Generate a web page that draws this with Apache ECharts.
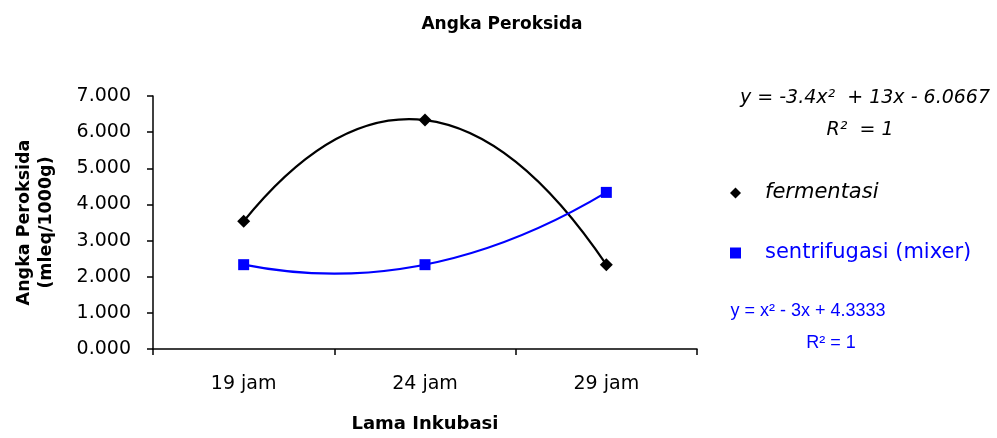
<!DOCTYPE html>
<html>
<head>
<meta charset="utf-8">
<script src="https://cdn.jsdelivr.net/npm/echarts@6/dist/echarts.min.js"></script>
<style>
  html, body { margin: 0; padding: 0; background: #fff; }
  #chart { width: 997px; height: 438px; }
</style>
</head>
<body>
<div id="chart"></div>
<script>
// data
const categories = ['19 jam', '24 jam', '29 jam'];
const fermentasi = [3.533, 6.333, 2.333];
const sentrifugasi = [2.333, 2.333, 4.333];
const yTicks = { min: 0, max: 7, interval: 1 };

const font = '"DejaVu Sans", sans-serif';
const font2 = '"Liberation Sans", Arial, sans-serif';

// 2nd order trendline through the three points, drawn as a quadratic bezier
// in pixel space (control point = 2*mid - (first+last)/2)
function trendItem(values, color) {
  return function (params, api) {
    if (params.dataIndex !== 0) return;
    const p = values.map((v, i) => api.coord([i, v]));
    return {
      type: 'bezierCurve',
      shape: {
        x1: p[0][0], y1: p[0][1],
        x2: p[2][0], y2: p[2][1],
        cpx1: 2 * p[1][0] - (p[0][0] + p[2][0]) / 2,
        cpy1: 2 * p[1][1] - (p[0][1] + p[2][1]) / 2
      },
      style: { stroke: color, lineWidth: 2.2, fill: null }
    };
  };
}

let myChart = echarts.init(document.getElementById('chart'));
myChart.setOption({
  animation: false,
  backgroundColor: '#fff',
  title: {
    text: 'Angka Peroksida',
    left: 497,
    top: 11,
    textAlign: 'center',
    textStyle: { fontFamily: font, fontSize: 17, fontWeight: 'bold', color: '#000' }
  },
  grid: { // plot area
    left: 153,
    right: 300,
    top: 96,
    bottom: 86
  },
  legend: {
    orient: 'vertical',
    left: 725,
    top: 176,
    itemWidth: 11,
    itemHeight: 11,
    itemGap: 36,
    selectedMode: false,
    textStyle: { fontFamily: font, fontSize: 21, lineHeight: 24, padding: [0, 0, 0, 19] },
    data: [
      { name: 'fermentasi', icon: 'diamond', textStyle: { color: '#000', fontStyle: 'italic' } },
      { name: 'sentrifugasi (mixer)', icon: 'rect', textStyle: { color: '#0000ff' } }
    ]
  },
  xAxis: {
    type: 'category',
    data: categories,
    boundaryGap: true,
    name: 'Lama Inkubasi',
    nameLocation: 'middle',
    nameGap: 66,
    nameTextStyle: { fontFamily: font, fontSize: 18, fontWeight: 'bold', color: '#000' },
    axisLine: { lineStyle: { color: '#000', width: 1.5 } },
    axisTick: { show: true, length: 6, lineStyle: { color: '#000', width: 1.5 } },
    axisLabel: { fontFamily: font, fontSize: 19, color: '#000', margin: 26 },
    splitLine: { show: false }
  },
  yAxis: {
    type: 'value',
    min: yTicks.min,
    max: yTicks.max,
    interval: yTicks.interval,
    name: 'Angka Peroksida\n(mleq/1000g)',
    nameLocation: 'middle',
    nameGap: 96,
    nameTextStyle: { fontFamily: font, fontSize: 17.5, fontWeight: 'bold', color: '#000', lineHeight: 22 },
    axisLine: { show: true, lineStyle: { color: '#000', width: 1.5 } },
    axisTick: { show: true, length: 6, lineStyle: { color: '#000', width: 1.5 } },
    axisLabel: {
      fontFamily: font, fontSize: 19, color: '#000', margin: 22,
      formatter: v => v.toFixed(3)
    },
    splitLine: { show: false }
  },
  series: [
    {
      type: 'custom',
      data: fermentasi,
      renderItem: trendItem(fermentasi, '#000'),
      silent: true
    },
    {
      type: 'custom',
      data: sentrifugasi,
      renderItem: trendItem(sentrifugasi, '#0000ff'),
      silent: true
    },
    {
      name: 'fermentasi',
      type: 'line',
      data: fermentasi,
      symbol: 'diamond',
      symbolSize: 13,
      itemStyle: { color: '#000' },
      lineStyle: { width: 0, opacity: 0 }
    },
    {
      name: 'sentrifugasi (mixer)',
      type: 'line',
      data: sentrifugasi,
      symbol: 'rect',
      symbolSize: 11,
      itemStyle: { color: '#0000ff' },
      lineStyle: { width: 0, opacity: 0 }
    }
  ],
  graphic: [
    {
      type: 'text', x: 865, y: 98,
      style: { text: 'y = -3.4x²  + 13x - 6.0667', font: 'italic 19px ' + font, fill: '#000', align: 'center', verticalAlign: 'middle' }
    },
    {
      type: 'text', x: 860, y: 130,
      style: { text: 'R²  = 1', font: 'italic 19px ' + font, fill: '#000', align: 'center', verticalAlign: 'middle' }
    },
    {
      type: 'text', x: 808, y: 311,
      style: { text: 'y = x² - 3x + 4.3333', font: '18px ' + font2, fill: '#0000ff', align: 'center', verticalAlign: 'middle' }
    },
    {
      type: 'text', x: 831, y: 343,
      style: { text: 'R² = 1', font: '18px ' + font2, fill: '#0000ff', align: 'center', verticalAlign: 'middle' }
    }
  ]
});
</script>
</body>
</html>
